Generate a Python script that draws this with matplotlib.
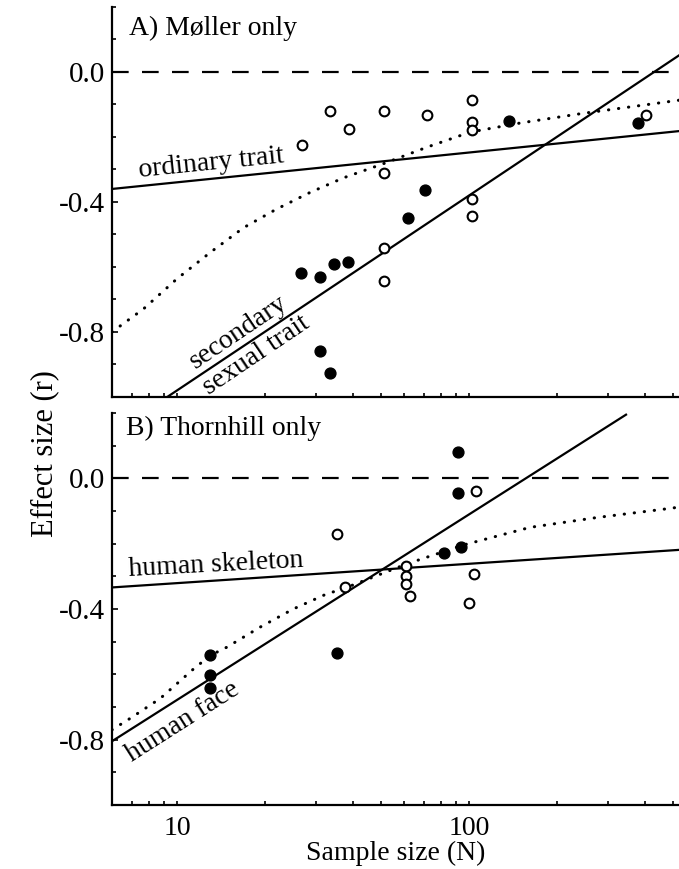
import matplotlib
matplotlib.use("Agg")
import matplotlib.pyplot as plt
from matplotlib.ticker import FixedLocator, NullFormatter, FixedFormatter

plt.rcParams['font.family'] = ['Liberation Serif', 'DejaVu Serif']

# ---------------- data ----------------
xlim = (5.98, 524)
ylim = (-1.0, 0.2)

# Panel A: Moller only
A_open_N = [26.8, 33.5, 38.9, 51, 51, 51, 51, 72, 102.6, 102.6, 102, 102, 102, 403]
A_open_r = [-0.226, -0.121, -0.177, -0.121, -0.31, -0.542, -0.644, -0.131,
            -0.085, -0.154, -0.179, -0.392, -0.444, -0.131]
A_fill_N = [26.5, 30.8, 34.6, 38.5, 30.8, 33.3, 62, 70.8, 137, 379]
A_fill_r = [-0.62, -0.63, -0.592, -0.585, -0.858, -0.925, -0.449, -0.362, -0.151, -0.156]

A_ordinary_N = [5.98, 524]
A_ordinary_r = [-0.360, -0.182]
A_sexual_N = [8.5, 524]
A_sexual_r = [-1.022, 0.051]
A_dotted_N = [5.98, 7.67, 9.97, 13.0, 16.9, 21.9, 28.5, 37.1, 51, 72, 101, 150, 243, 524]
A_dotted_r = [-0.80, -0.729, -0.637, -0.555, -0.479, -0.422, -0.371, -0.326,
              -0.282, -0.231, -0.185, -0.157, -0.128, -0.087]

# Panel B: Thornhill only
B_fill_N = [13, 13, 13, 35.2, 82.4, 92, 92, 93.5]
B_fill_r = [-0.542, -0.603, -0.641, -0.534, -0.228, 0.080, -0.046, -0.209]
B_open_N = [35.3, 37.5, 60.7, 60.9, 60.7, 63, 100.3, 104, 105.6]
B_open_r = [-0.171, -0.332, -0.269, -0.299, -0.323, -0.361, -0.382, -0.293, -0.040]

B_skeleton_N = [5.98, 524]
B_skeleton_r = [-0.334, -0.219]
B_face_N = [5.98, 345]
B_face_r = [-0.805, 0.195]
B_dotted_N = [5.98, 6.9, 8.75, 11.4, 13.0, 14.8, 19.2, 25, 32.5, 37.1, 61.2, 95.7, 162, 274, 488, 524]
B_dotted_r = [-0.77, -0.735, -0.674, -0.583, -0.542, -0.517, -0.456, -0.40, -0.354,
              -0.338, -0.262, -0.204, -0.150, -0.120, -0.092, -0.088]

y_major = [0.0, -0.4, -0.8]
y_major_labels = ["0.0", "-0.4", "-0.8"]
y_minor = [0.2, 0.1, -0.1, -0.2, -0.3, -0.5, -0.6, -0.7, -0.9, -1.0]
x_major = [10, 100]
x_major_labels = ["10", "100"]
x_minor = [6, 7, 8, 9, 20, 30, 40, 50, 60, 70, 80, 90, 200, 300, 400, 500]

# ---------------- figure ----------------
fig = plt.figure(figsize=(6.79, 8.69), dpi=100)
axA = fig.add_axes([0.1649, 0.5432, 0.8351, 0.4488])
axB = fig.add_axes([0.1649, 0.0737, 0.8351, 0.4510])

FS = 20
LW = 1.6


def style(ax, show_xlabels):
    ax.set_xscale('log')
    ax.set_xlim(*xlim)
    ax.set_ylim(*ylim)
    for s in ['top', 'right']:
        ax.spines[s].set_visible(False)
    for s in ['left', 'bottom']:
        ax.spines[s].set_linewidth(1.6)
    ax.yaxis.set_major_locator(FixedLocator(y_major))
    ax.yaxis.set_major_formatter(FixedFormatter(y_major_labels))
    ax.yaxis.set_minor_locator(FixedLocator(y_minor))
    ax.xaxis.set_major_locator(FixedLocator(x_major))
    ax.xaxis.set_minor_locator(FixedLocator(x_minor))
    ax.xaxis.set_minor_formatter(NullFormatter())
    if show_xlabels:
        ax.xaxis.set_major_formatter(FixedFormatter(x_major_labels))
    else:
        ax.xaxis.set_major_formatter(NullFormatter())
    ax.tick_params(which='both', direction='in', width=1.2, labelsize=FS)
    ax.tick_params(axis='y', which='major', length=4, pad=5, labelsize=21)
    ax.tick_params(axis='y', which='minor', length=3)
    ax.tick_params(axis='x', which='both', length=3, pad=8)
    ax.axhline(0.0, color='black', lw=LW, linestyle=(0, (7.5, 6.0)))


style(axA, False)
style(axB, True)

dot_style = dict(color='black', lw=2.2, linestyle=(0, (0.1, 3.2)), dash_capstyle='round')

# Panel A
axA.plot(A_ordinary_N, A_ordinary_r, color='black', lw=LW)
axA.plot(A_sexual_N, A_sexual_r, color='black', lw=LW)
axA.plot(A_dotted_N, A_dotted_r, **dot_style)
axA.plot(A_open_N, A_open_r, linestyle='none', marker='o', ms=7, mfc='white',
         mec='black', mew=1.5, zorder=5)
axA.plot(A_fill_N, A_fill_r, linestyle='none', marker='o', ms=7.8, mfc='black',
         mec='black', zorder=5)
axA.text(6.85, 0.113, "A) Møller only", fontsize=FS, va='baseline', ha='left')
axA.text(13.2, -0.300, "ordinary trait", fontsize=FS, ha='center', va='baseline',
         rotation=5.8, rotation_mode='anchor')
axA.text(16.2, -0.80, "secondary", fontsize=FS, ha='center', va='center',
         rotation=34, rotation_mode='anchor')
axA.text(18.6, -0.872, "sexual trait", fontsize=FS, ha='center', va='center',
         rotation=34, rotation_mode='anchor')

# Panel B
axB.plot(B_skeleton_N, B_skeleton_r, color='black', lw=LW)
axB.plot(B_face_N, B_face_r, color='black', lw=LW)
axB.plot(B_dotted_N, B_dotted_r, **dot_style)
axB.plot(B_open_N, B_open_r, linestyle='none', marker='o', ms=7, mfc='white',
         mec='black', mew=1.5, zorder=5)
axB.plot(B_fill_N, B_fill_r, linestyle='none', marker='o', ms=7.8, mfc='black',
         mec='black', zorder=5)
axB.text(6.7, 0.134, "B) Thornhill only", fontsize=FS, va='baseline', ha='left')
axB.text(13.6, -0.285, "human skeleton", fontsize=FS, ha='center', va='baseline',
         rotation=3, rotation_mode='anchor')
axB.text(10.5, -0.745, "human face", fontsize=FS, ha='center', va='center',
         rotation=32.5, rotation_mode='anchor')

axB.set_xlabel("Sample size (N)", fontsize=FS, labelpad=0)
fig.text(0.066, 0.478, "Effect size (r)", fontsize=22, rotation=90,
         ha='center', va='center')

fig.savefig("out.png", dpi=100)
